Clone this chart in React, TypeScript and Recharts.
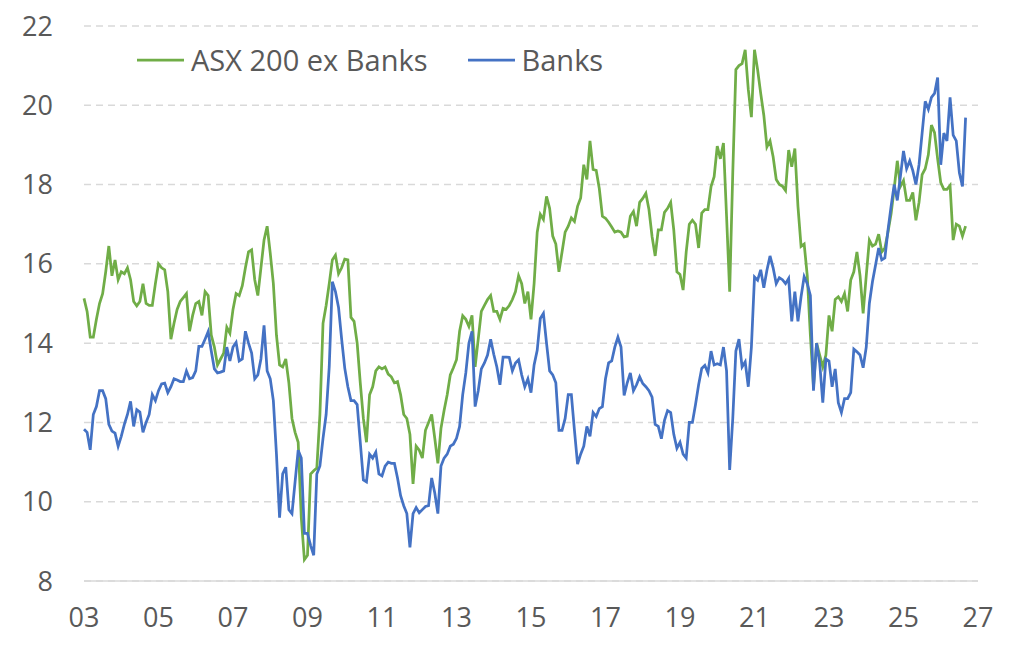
import React from "react";
import { LineChart, Line, XAxis, YAxis, CartesianGrid } from "recharts";

const startYear = 2003;

// ASX 200 ex Banks, monthly from Jan 2003
const asxExBanks = [
  15.13, 14.8, 14.15, 14.15, 14.6, 15.0, 15.25, 15.8, 16.45, 15.7, 16.1, 15.6, // 2003
  15.8, 15.75, 15.9, 15.6, 15.05, 14.94, 15.05, 15.5, 15.0, 14.95, 14.95, 15.5, // 2004
  16.0, 15.9, 15.85, 15.3, 14.1, 14.5, 14.85, 15.05, 15.15, 15.25, 14.3, 14.7, // 2005
  15.0, 15.05, 14.7, 15.3, 15.2, 14.2, 13.9, 13.45, 13.6, 13.75, 14.4, 14.25, // 2006
  14.85, 15.25, 15.2, 15.45, 15.9, 16.3, 16.35, 15.6, 15.2, 15.9, 16.6, 16.95, // 2007
  16.27, 15.5, 14.2, 13.45, 13.4, 13.6, 13.0, 12.1, 11.75, 11.5, 9.6, 8.54, // 2008
  8.65, 10.7, 10.78, 10.85, 12.2, 14.5, 14.95, 15.5, 16.1, 16.22, 15.75, 15.9, // 2009
  16.12, 16.1, 14.65, 14.55, 14.0, 13.0, 12.1, 11.5, 12.7, 12.9, 13.3, 13.4, // 2010
  13.35, 13.4, 13.22, 13.15, 13.0, 13.03, 12.7, 12.2, 12.1, 11.7, 10.45, 11.4, // 2011
  11.3, 11.1, 11.8, 12.0, 12.2, 11.6, 10.97, 11.85, 12.3, 12.7, 13.2, 13.38, // 2012
  13.58, 14.3, 14.69, 14.6, 14.42, 14.7, 13.4, 14.1, 14.8, 14.95, 15.1, 15.2, // 2013
  14.8, 14.8, 14.6, 14.88, 14.85, 14.95, 15.1, 15.3, 15.7, 15.5, 15.0, 15.3, // 2014
  14.6, 15.5, 16.8, 17.25, 17.12, 17.7, 17.4, 16.7, 16.5, 15.8, 16.3, 16.8, // 2015
  16.95, 17.16, 17.07, 17.45, 17.66, 18.5, 18.13, 19.1, 18.38, 18.36, 17.9, 17.2, // 2016
  17.15, 17.05, 16.93, 16.8, 16.83, 16.8, 16.68, 16.7, 17.2, 17.32, 16.95, 17.55, // 2017
  17.65, 17.78, 17.37, 16.69, 16.2, 16.86, 16.86, 17.3, 17.4, 17.55, 16.85, 15.8, // 2018
  15.73, 15.34, 16.3, 17.0, 17.1, 17.0, 16.4, 17.28, 17.37, 17.37, 17.95, 18.2, // 2019
  18.97, 18.65, 19.05, 17.2, 15.3, 18.3, 20.9, 21.0, 21.05, 21.4, 20.4, 19.7, // 2020
  21.4, 20.9, 20.3, 19.75, 18.95, 19.1, 18.7, 18.13, 18.0, 17.96, 17.85, 18.87, // 2021
  18.45, 18.91, 17.45, 16.44, 16.5, 15.7, 14.2, 12.9, 14.0, 13.7, 13.4, 13.7, // 2022
  14.7, 14.3, 15.1, 15.17, 15.05, 15.25, 14.8, 15.59, 15.8, 16.3, 15.7, 14.75, // 2023
  15.7, 16.6, 16.45, 16.5, 16.75, 16.3, 16.4, 16.8, 17.26, 17.9, 18.6, 17.95, // 2024
  18.1, 17.6, 17.6, 17.8, 17.1, 17.55, 18.25, 18.4, 18.75, 19.5, 19.31, 18.65, // 2025
  18.05, 17.88, 17.88, 17.98, 16.6, 17.0, 16.95, 16.7, 16.95, // 2026
];

// Banks, monthly from Jan 2003
const banks = [
  11.83, 11.75, 11.31, 12.2, 12.4, 12.8, 12.8, 12.6, 11.95, 11.78, 11.73, 11.4, // 2003
  11.65, 11.95, 12.2, 12.53, 11.9, 12.32, 12.26, 11.75, 12.0, 12.2, 12.7, 12.55, // 2004
  12.8, 12.97, 12.99, 12.75, 12.9, 13.1, 13.07, 13.03, 13.03, 13.3, 13.1, 13.13, // 2005
  13.3, 13.92, 13.92, 14.1, 14.29, 13.8, 13.35, 13.25, 13.27, 13.3, 13.9, 13.55, // 2006
  13.9, 14.02, 13.55, 13.6, 14.3, 14.0, 13.75, 13.1, 13.2, 13.6, 14.45, 13.3, // 2007
  13.1, 12.55, 11.2, 9.6, 10.7, 10.87, 9.8, 9.7, 10.5, 11.3, 11.1, 9.2, // 2008
  9.2, 8.9, 8.65, 10.7, 10.9, 11.6, 12.2, 13.4, 15.55, 15.3, 14.9, 14.1, // 2009
  13.37, 12.9, 12.55, 12.55, 12.45, 11.5, 10.55, 10.5, 11.2, 11.1, 11.25, 10.7, // 2010
  10.65, 10.9, 11.0, 10.97, 10.97, 10.6, 10.15, 9.9, 9.7, 8.85, 9.7, 9.85, // 2011
  9.72, 9.8, 9.88, 9.9, 10.6, 10.22, 9.7, 10.9, 11.1, 11.2, 11.4, 11.45, // 2012
  11.6, 11.9, 12.7, 13.25, 14.0, 14.3, 12.4, 12.8, 13.35, 13.5, 13.7, 14.1, // 2013
  13.72, 13.4, 12.95, 13.65, 13.65, 13.64, 13.3, 13.5, 13.58, 13.2, 12.9, 13.1, // 2014
  12.75, 13.45, 13.82, 14.62, 14.75, 14.0, 13.3, 13.2, 13.0, 11.8, 11.8, 12.1, // 2015
  12.7, 12.7, 11.8, 10.95, 11.2, 11.4, 11.9, 11.65, 12.25, 12.15, 12.35, 12.4, // 2016
  13.1, 13.5, 13.55, 13.9, 14.15, 13.9, 12.68, 13.0, 13.25, 12.8, 12.95, 13.15, // 2017
  12.98, 12.9, 12.8, 12.64, 11.95, 11.9, 11.59, 12.05, 12.3, 12.25, 11.7, 11.35, // 2018
  11.5, 11.2, 11.1, 12.0, 12.0, 12.45, 12.95, 13.36, 13.44, 13.25, 13.8, 13.45, // 2019
  13.48, 13.45, 13.9, 13.3, 10.8, 12.1, 13.8, 14.1, 13.4, 13.53, 12.9, 13.9, // 2020
  15.67, 15.59, 15.85, 15.4, 15.84, 16.2, 15.9, 15.5, 15.65, 15.6, 15.5, 15.63, // 2021
  14.55, 15.3, 14.55, 15.17, 15.68, 15.5, 15.2, 12.8, 14.0, 13.5, 12.5, 13.6, // 2022
  13.55, 12.9, 13.35, 12.5, 12.25, 12.6, 12.6, 12.75, 13.85, 13.78, 13.7, 13.38, // 2023
  13.9, 15.0, 15.55, 15.97, 16.4, 16.1, 16.15, 16.85, 17.45, 18.0, 17.6, 18.2, // 2024
  18.85, 18.4, 18.6, 18.35, 18.0, 18.5, 19.3, 20.1, 19.9, 20.2, 20.3, 20.7, // 2025
  18.5, 19.3, 19.1, 20.2, 19.25, 19.1, 18.3, 17.95, 19.69, // 2026
];

const xTicks = [2003, 2005, 2007, 2009, 2011, 2013, 2015, 2017, 2019, 2021, 2023, 2025, 2027];
const yTicks = [8, 10, 12, 14, 16, 18, 20, 22];

const seriesNames = { asx: "ASX 200 ex Banks", banks: "Banks" };
const colors = { asx: "#70ad47", banks: "#4472c4" };

const data = asxExBanks.map((v, i) => ({
  t: startYear + i / 12,
  asx: v,
  banks: banks[i],
}));

const FONT = "'Open Sans', 'Noto Sans', sans-serif";
const TEXT = "#595959";

const LegendBox = () => (
  <div
    style={{
      position: "absolute",
      left: 137,
      top: 40,
      display: "flex",
      alignItems: "center",
      fontFamily: FONT,
      fontSize: 29,
      color: TEXT,
      whiteSpace: "nowrap",
      lineHeight: "40px",
    }}
  >
    {(["asx", "banks"] as const).map((k, i) => (
      <div key={k} style={{ display: "flex", alignItems: "center", marginLeft: i === 0 ? 0 : 40 }}>
        <svg width={47} height={6} style={{ marginRight: 7 }}>
          <line x1={0} y1={3} x2={47} y2={3} stroke={colors[k]} strokeWidth={2.75} />
        </svg>
        <span>{seriesNames[k]}</span>
      </div>
    ))}
  </div>
);

export default function App() {
  return (
    <div style={{ position: "absolute", left: 0, top: 0, width: 1024, height: 658, background: "#fff" }}>
      <LineChart width={1024} height={658} data={data} margin={{ top: 26, right: 46, bottom: 37, left: 0 }}>
        <CartesianGrid vertical={false} stroke="#d9d9d9" strokeDasharray="7 5" strokeWidth={1.5} />
        <XAxis
          dataKey="t"
          type="number"
          domain={[2003, 2027]}
          ticks={xTicks}
          tickFormatter={(v: number) => String(Math.round(v) % 100).padStart(2, "0")}
          axisLine={{ stroke: "#d9d9d9", strokeWidth: 1.5 }}
          tickLine={false}
          tickSize={0}
          tickMargin={27}
          height={40}
          tick={{ fill: TEXT, fontSize: 27, fontFamily: FONT }}
          interval={0}
        />
        <YAxis
          domain={[8, 22]}
          ticks={yTicks}
          axisLine={false}
          tickLine={false}
          tickSize={0}
          tickMargin={31}
          width={84}
          tick={{ fill: TEXT, fontSize: 27, fontFamily: FONT }}
          interval={0}
        />
        <Line
          type="linear"
          dataKey="asx"
          name={seriesNames.asx}
          stroke={colors.asx}
          strokeWidth={2.75}
          dot={false}
          isAnimationActive={false}
        />
        <Line
          type="linear"
          dataKey="banks"
          name={seriesNames.banks}
          stroke={colors.banks}
          strokeWidth={2.75}
          dot={false}
          isAnimationActive={false}
        />
      </LineChart>
      <LegendBox />
    </div>
  );
}
